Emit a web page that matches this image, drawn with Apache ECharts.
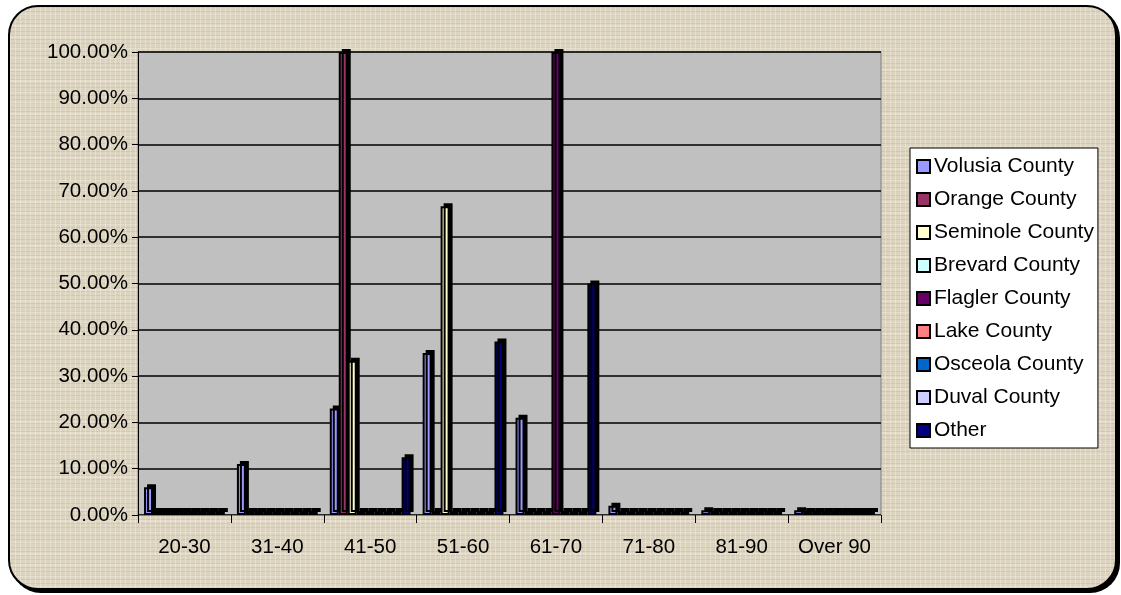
<!DOCTYPE html>
<html>
<head>
<meta charset="utf-8">
<script src="https://cdn.jsdelivr.net/npm/echarts@6/dist/echarts.min.js"></script>
<style>
	html, body { margin: 0; padding: 0; background: #fff; }
	#frame {
		position: absolute; left: 8px; top: 5px; width: 1105px; height: 581px;
		border: 2px solid #000; border-radius: 30px;
		box-shadow: 3px 3px 0 #000;
		background-color: #ddd4bf;
		background-image:
			repeating-linear-gradient(90deg, rgba(255,255,255,0.28) 0 1px, rgba(0,0,0,0) 1px 5px),
			repeating-linear-gradient(0deg, rgba(150,130,100,0.16) 0 1px, rgba(0,0,0,0) 1px 4px),
			repeating-linear-gradient(0deg, rgba(255,255,255,0.2) 0 2px, rgba(0,0,0,0) 2px 11px);
	}
	#chart { position: absolute; left: 0; top: 0; width: 1121px; height: 595px; }
</style>
</head>
<body>
<div id="frame"></div>
<div id="chart"></div>
<script>
	const categories = ['20-30', '31-40', '41-50', '51-60', '61-70', '71-80', '81-90', 'Over 90'];

	const volusia  = [6, 11, 23, 35, 21, 2, 1, 1];
	const orange   = [0, 0, 100, 0, 0, 0, 0, 0];
	const seminole = [0, 0, 33.3, 66.7, 0, 0, 0, 0];
	const brevard  = [0, 0, 0, 0, 0, 0, 0, 0];
	const flagler  = [0, 0, 0, 0, 100, 0, 0, 0];
	const lake     = [0, 0, 0, 0, 0, 0, 0, 0];
	const osceola  = [0, 0, 0, 0, 0, 0, 0, 0];
	const duval    = [0, 0, 0, 0, 0, 0, 0, 0];
	const other    = [0, 0, 12.5, 37.5, 50, 0, 0, 0];

	const names = ['Volusia County', 'Orange County', 'Seminole County', 'Brevard County',
		'Flagler County', 'Lake County', 'Osceola County', 'Duval County', 'Other'];
	const values = [volusia, orange, seminole, brevard, flagler, lake, osceola, duval, other];
	const colorList = ['#9999ff', '#993366', '#ffffcc', '#ccffff', '#660066', '#ff8080', '#0066cc', '#ccccff', '#000080'];

	const chart = echarts.init(document.getElementById('chart'));

	const font = 'Liberation Sans, Arial, sans-serif';

	option = {
		backgroundColor: 'transparent',
		color: colorList,
		textStyle: { fontFamily: font },
		grid: {
			left: 138,
			right: 240,
			top: 52,
			bottom: 80,
			show: true,
			backgroundColor: '#c0c0c0',
			borderColor: '#808080',
			borderWidth: 1
		},
		legend: {
			data: names,
			orient: 'vertical',
			left: 910,
			top: 148,
			icon: 'rect',
			itemWidth: 13,
			itemHeight: 13,
			itemGap: 12,
			padding: [8, 4, 7, 6],
			backgroundColor: '#fff',
			borderColor: '#000',
			borderWidth: 1,
			borderRadius: 0,
			itemStyle: {
				borderColor: '#000',
				borderWidth: 2,
				shadowColor: 'rgba(0,0,0,0)',
				shadowOffsetX: 0,
				shadowOffsetY: 0
			},
			textStyle: { color: '#000', fontSize: 21, fontFamily: font, padding: [0, 0, 0, -1] }
		},
		xAxis: {
			type: 'category',
			data: categories,
			axisLine: { show: true, lineStyle: { color: '#808080', width: 1 } },
			axisTick: { show: true, length: 8, lineStyle: { color: '#000' } },
			axisLabel: { color: '#000', fontSize: 20.5, margin: 22, interval: 0, fontFamily: font },
			splitLine: { show: false }
		},
		yAxis: {
			type: 'value',
			min: 0,
			max: 100,
			interval: 10,
			axisLine: { show: true, lineStyle: { color: '#000', width: 1 } },
			axisTick: { show: true, length: 6, lineStyle: { color: '#000' } },
			axisLabel: {
				color: '#000',
				fontSize: 20.5,
				margin: 10,
				fontFamily: font,
				formatter: function (v) { return v.toFixed(2) + '%'; }
			},
			splitLine: { show: true, lineStyle: { color: '#000', width: 1.5 } }
		},
		series: names.map(function (n, i) {
			return {
				name: n,
				type: 'bar',
				data: values[i],
				barGap: '0%',
				barCategoryGap: '13%',
				barMinHeight: 4,
				itemStyle: {
					color: colorList[i],
					borderColor: '#000',
					borderWidth: 2,
					shadowColor: '#000',
					shadowBlur: 0,
					shadowOffsetX: 3,
					shadowOffsetY: -3
				}
			};
		})
	};

	chart.setOption(option);
</script>
</body>
</html>
